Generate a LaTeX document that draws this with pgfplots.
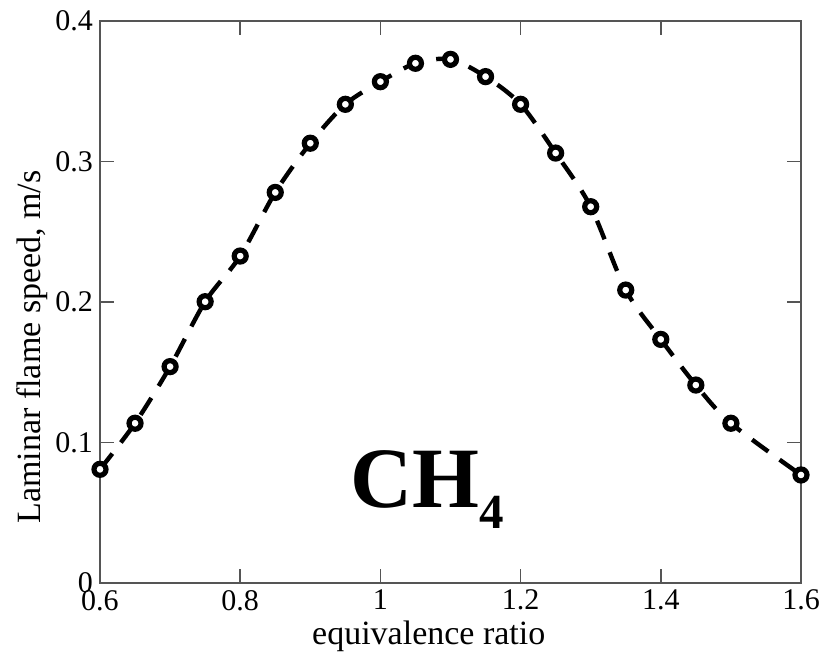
\documentclass[border=0pt]{standalone}
\usepackage{fontspec}
\setmainfont{Liberation Serif}
\usepackage{pgfplots}
\pgfplotsset{compat=1.18}
\definecolor{frame}{RGB}{85,85,85}

\begin{document}
\begin{tikzpicture}
\begin{axis}[
    scale only axis,
    width=350.5pt, height=281pt,
    xmin=0.6, xmax=1.6, ymin=0, ymax=0.4,
    xtick={0.6,0.8,1,1.2,1.4,1.6},
    ytick={0,0.1,0.2,0.3,0.4},
    tick align=inside,
    major tick length=7pt,
    axis line style={frame, line width=0.8pt},
    every tick/.style={frame, line width=0.8pt},
    /pgf/number format/assume math mode=true,
    ticklabel style={font=\fontsize{15}{15}\selectfont},
    label style={font=\fontsize{17}{17}\selectfont},
    xlabel={equivalence ratio},
    ylabel={Laminar flame speed, m/s},
    xlabel style={at={(axis description cs:0.469,-0.094)}, anchor=center},
    ylabel style={at={(axis description cs:-0.097,0.42)}, anchor=center},
    clip=false,
]
\addplot[black, line width=2.2pt, dash pattern=on 10pt off 7pt, smooth] coordinates {
(0.60,0.0809) (0.65,0.1137) (0.70,0.1540) (0.75,0.2002) (0.80,0.2327)
(0.85,0.2780) (0.90,0.3130) (0.95,0.3407) (1.00,0.3568) (1.05,0.3699)
(1.10,0.3727) (1.15,0.3604) (1.20,0.3407) (1.25,0.3060) (1.30,0.2678)
(1.35,0.2085) (1.40,0.1734) (1.45,0.1409) (1.50,0.1137) (1.60,0.0769)
};
\addplot[only marks, black, mark=*, mark size=3pt, mark options={line width=2.6pt, solid, fill=white}] coordinates {
(0.60,0.0809) (0.65,0.1137) (0.70,0.1540) (0.75,0.2002) (0.80,0.2327)
(0.85,0.2780) (0.90,0.3130) (0.95,0.3407) (1.00,0.3568) (1.05,0.3699)
(1.10,0.3727) (1.15,0.3604) (1.20,0.3407) (1.25,0.3060) (1.30,0.2678)
(1.35,0.2085) (1.40,0.1734) (1.45,0.1409) (1.50,0.1137) (1.60,0.0769)
};
\node[anchor=base west, inner sep=0pt] at (axis cs:0.9566,0.054)
  {\fontsize{43}{43}\selectfont\bfseries CH\raisebox{-10.5pt}{\fontsize{24.5}{24.5}\selectfont 4}};
\coordinate (bl) at (rel axis cs:0,0);
\coordinate (tr) at (rel axis cs:1,1);
\end{axis}
\pgfresetboundingbox
\path ([shift={(-50pt,-38pt)}]bl) rectangle ([shift={(12pt,10.5pt)}]tr);
\end{tikzpicture}
\end{document}
